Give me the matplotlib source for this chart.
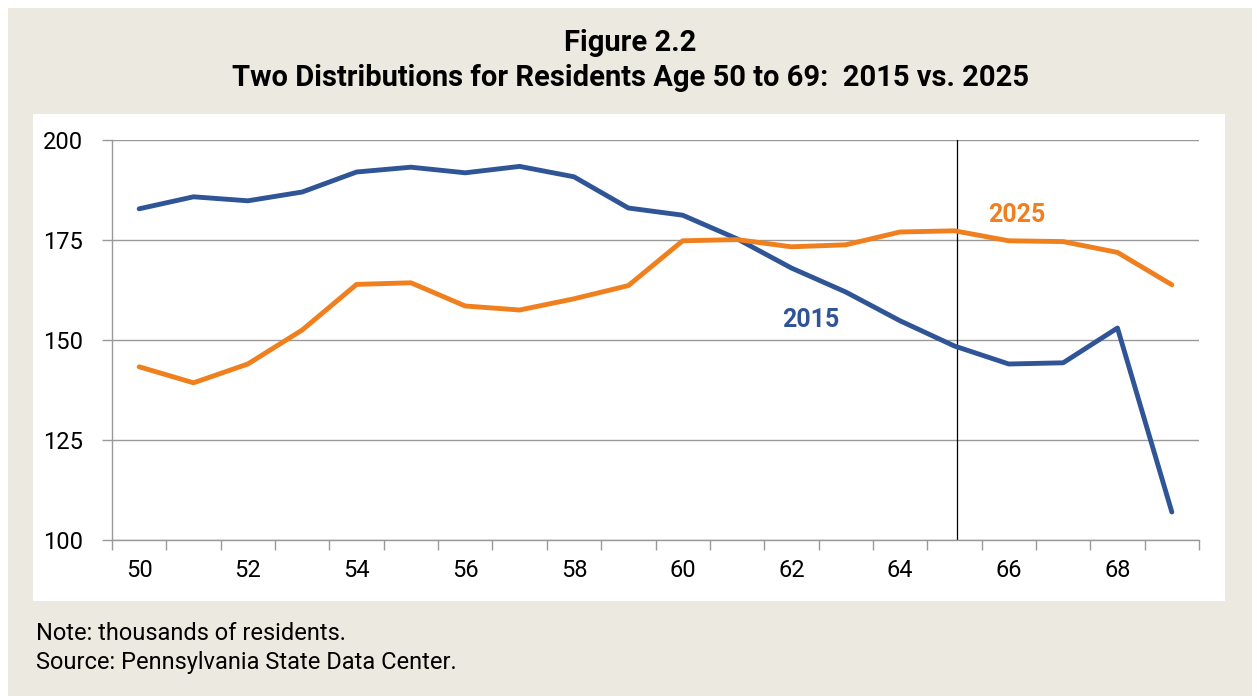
import numpy as np
import matplotlib.pyplot as plt
from matplotlib.patches import Rectangle

# Data (thousands of residents)
ages = list(range(50, 70))
pop_2015 = [182.8, 185.8, 184.8, 187.0, 192.0, 193.2, 191.8, 193.4, 190.8, 183.0,
            181.2, 175.3, 168.0, 162.0, 154.8, 148.5, 144.0, 144.3, 153.0, 107.0]
pop_2025 = [143.3, 139.3, 144.0, 152.5, 163.9, 164.3, 158.5, 157.5, 160.3, 163.6,
            174.8, 175.1, 173.3, 173.8, 177.0, 177.3, 174.8, 174.6, 171.9, 163.8]
x_labels = [str(a) if a % 2 == 0 else "" for a in ages]

blue = "#2f5597"
orange = "#f07f1e"
beige = "#eceae0"

plt.rcParams["font.family"] = ["Roboto", "DejaVu Sans"]

W, H = 1257, 696
fig = plt.figure(figsize=(W / 100, H / 100), dpi=100, facecolor="white")

# beige card and white plot panel
fig.patches.append(Rectangle((8 / W, 0), 1244 / W, 688 / H, transform=fig.transFigure,
                             facecolor=beige, edgecolor="none", zorder=0))
fig.patches.append(Rectangle((33 / W, (H - 601) / H), 1192 / W, 487 / H, transform=fig.transFigure,
                             facecolor="white", edgecolor="none", zorder=0))

ax = fig.add_axes([112 / W, (H - 540) / H, 1087 / W, 400 / H])
ax.set_zorder(2)
ax.set_facecolor("none")

ax.plot(ages, pop_2015, color=blue, lw=3.5, solid_capstyle="round", zorder=3)
ax.plot(ages, pop_2025, color=orange, lw=3.5, solid_capstyle="round", zorder=3)
ax.axvline(65.05, color="black", lw=0.9, zorder=2)

ax.set_xlim(49.5, 69.5)
ax.set_ylim(100, 200)
ax.set_yticks([100, 125, 150, 175, 200])
ax.set_xticks(ages)
ax.set_xticklabels(x_labels)
ax.set_xticks(np.arange(49.5, 70, 1), minor=True)
ax.tick_params(axis="x", which="major", length=0, pad=14, labelsize=17)
ax.tick_params(axis="x", which="minor", length=7, color="#999999", width=1)
ax.tick_params(axis="y", length=7, color="#999999", width=1, pad=14, labelsize=17)
ax.yaxis.grid(True, color="#999999", lw=1)
for s in ["top", "right"]:
    ax.spines[s].set_visible(False)
for s in ["left", "bottom"]:
    ax.spines[s].set_color("#999999")
    ax.spines[s].set_linewidth(1)

ax.text(62.36, 155, "2015", color=blue, fontsize=18, fontweight="bold", ha="center", va="center")
ax.text(66.15, 181.3, "2025", color=orange, fontsize=18, fontweight="bold", ha="center", va="center")

fig.text(630 / W, 1 - 43 / H, "Figure 2.2", ha="center", va="center", fontsize=21, fontweight="bold")
fig.text(630 / W, 1 - 78 / H, "Two Distributions for Residents Age 50 to 69:  2015 vs. 2025",
         ha="center", va="center", fontsize=21, fontweight="bold")
fig.text(36 / W, 1 - 634 / H, "Note: thousands of residents.", ha="left", va="center", fontsize=17)
fig.text(36 / W, 1 - 663 / H, "Source: Pennsylvania State Data Center.", ha="left", va="center", fontsize=17)

fig.savefig("out.png", dpi=100)
